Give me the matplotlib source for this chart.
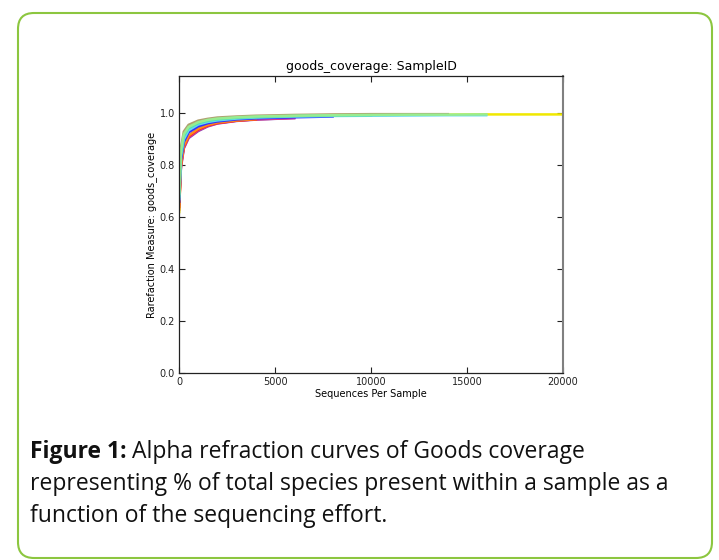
import matplotlib
matplotlib.use('Agg')
import matplotlib.pyplot as plt
from matplotlib.patches import FancyBboxPatch
from matplotlib.transforms import IdentityTransform

# rarefaction depths (sequences per sample)
depths = [10, 100, 250, 500, 1000, 1500, 2000, 3000, 4000, 6000, 8000,
          10000, 12000, 14000, 16000, 18000, 20000]

# goods coverage per sample (each sample stops at its own max depth)
cov_yellow = [0.62, 0.840, 0.910, 0.942, 0.962, 0.972, 0.978, 0.984, 0.987, 0.991, 0.993, 0.994,
              0.995, 0.995, 0.996, 0.996, 0.996]
cov_olive = [0.70, 0.865, 0.930, 0.956, 0.972, 0.979, 0.984, 0.988, 0.991, 0.994, 0.996, 0.997,
             0.997, 0.997]
cov_purple = [0.66, 0.79, 0.865, 0.905, 0.932, 0.950, 0.961, 0.971, 0.976, 0.982]
cov_magenta = [0.65, 0.795, 0.868, 0.908, 0.935, 0.952, 0.962, 0.972, 0.977, 0.982]
cov_red = [0.64, 0.80, 0.872, 0.912, 0.938, 0.954, 0.963, 0.972, 0.977]
cov_orange = [0.63, 0.80, 0.875, 0.915, 0.941, 0.956, 0.965, 0.973, 0.978]
cov_blue = [0.66, 0.82, 0.890, 0.927, 0.950, 0.962, 0.969, 0.977, 0.981, 0.985, 0.988]
cov_cyan = [0.67, 0.835, 0.900, 0.935, 0.957, 0.967, 0.973, 0.980, 0.984, 0.988, 0.990, 0.991,
            0.992, 0.993, 0.993]
cov_teal = [0.68, 0.845, 0.912, 0.943, 0.962, 0.971, 0.977, 0.983, 0.986, 0.990, 0.992, 0.993]
cov_green = [0.69, 0.855, 0.920, 0.948, 0.966, 0.975, 0.980, 0.985, 0.988, 0.991, 0.993, 0.994,
             0.995, 0.995, 0.996]

samples = [cov_yellow, cov_olive, cov_purple, cov_magenta, cov_red, cov_orange,
           cov_blue, cov_cyan, cov_teal, cov_green]
colors = ['#f0e800', '#b0a070', '#8a3cb0', '#e0408a', '#ff2020', '#ff8c1a',
          '#3030ff', '#66d8f0', '#50e0b8', '#98ec90']

caption_bold = 'Figure 1:'
caption_lines = [' Alpha refraction curves of Goods coverage',
                 'representing % of total species present within a sample as a',
                 'function of the sequencing effort.']

fig = plt.figure(figsize=(7.19, 5.6), dpi=100)
fig.patch.set_facecolor('white')

# rounded green frame (pixel coords)
frame = FancyBboxPatch((18, 2), 694, 545, boxstyle='round,pad=0,rounding_size=16',
                       transform=IdentityTransform(), facecolor='none',
                       edgecolor='#8cc63f', linewidth=1.5)
fig.patches.append(frame)

ax = fig.add_axes([179/719, 187/560, 384/719, 297/560])
for vals, c in zip(samples, colors):
    ax.plot(depths[:len(vals)], vals, color=c, linewidth=1.8)

ax.set_xlim(0, 20000)
ax.set_ylim(0, 1.144)
ax.set_xticks([0, 5000, 10000, 15000, 20000])
ax.set_yticks([0.0, 0.2, 0.4, 0.6, 0.8, 1.0])
ax.tick_params(direction='in', length=4, width=0.8, labelsize=7, pad=3,
               top=True, right=True, colors='#222222')
for s in ax.spines.values():
    s.set_color('#222222')
    s.set_linewidth(0.9)
ax.spines['right'].set_color('#808080')
ax.spines['right'].set_linewidth(1.5)
ax.set_title('goods_coverage: SampleID', fontsize=9, pad=4)
ax.set_xlabel('Sequences Per Sample', fontsize=7, labelpad=1)
ax.set_ylabel('Rarefaction Measure: goods_coverage', fontsize=7, labelpad=2)

# caption
fs = 16.5
t = fig.text(30/719, 1 - 458/560, caption_bold, fontsize=fs, fontweight='bold',
             family='Open Sans', color='#111111', va='baseline')
fig.canvas.draw()
bb = t.get_window_extent()
fig.text(bb.x1/719, 1 - 458/560, caption_lines[0], fontsize=fs, family='Open Sans',
         color='#111111', va='baseline')
fig.text(30/719, 1 - 490/560, caption_lines[1], fontsize=fs, family='Open Sans',
         color='#111111', va='baseline')
fig.text(30/719, 1 - 522/560, caption_lines[2], fontsize=fs, family='Open Sans',
         color='#111111', va='baseline')

fig.savefig('out.png', dpi=100)
